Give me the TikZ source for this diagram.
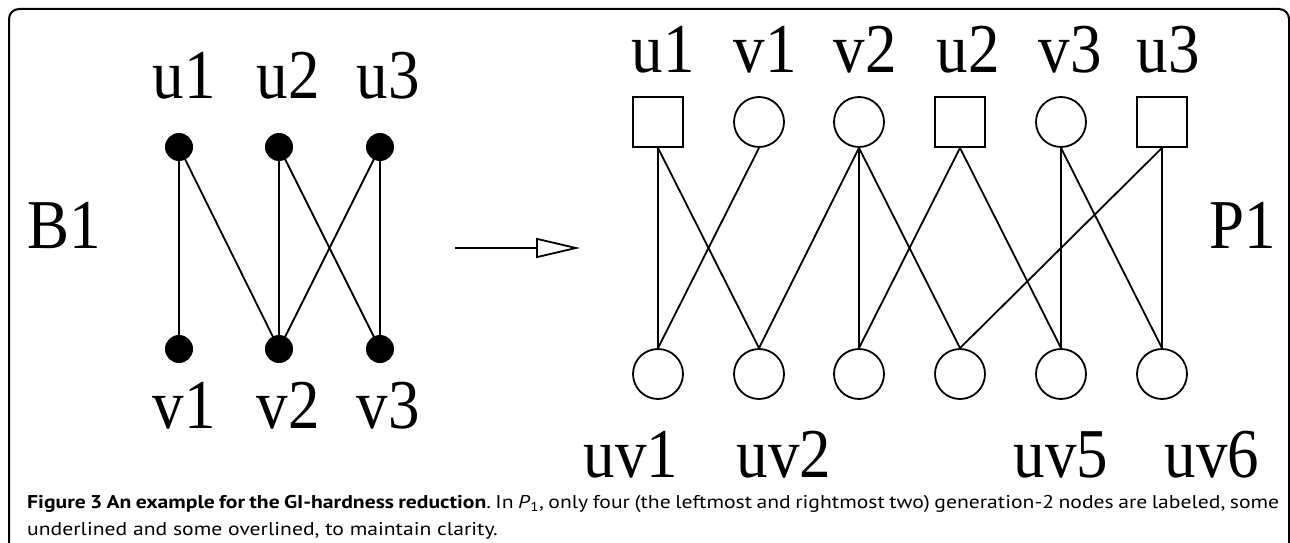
\documentclass[tikz,border=0pt]{standalone}
\usepackage{fontspec}
\usetikzlibrary{arrows.meta}
\newfontfamily\labfont[FakeStretch=0.9]{Liberation Serif}
\newfontfamily\capfont[FakeStretch=1.17]{PT Sans}
\frenchspacing
\begin{document}
\begin{tikzpicture}[x=1pt,y=-1pt,
  lab/.style={font={\labfont\fontsize{70}{70}\selectfont}, inner sep=0pt, anchor=base},
  dotnode/.style={circle, fill=black, minimum size=28pt, inner sep=0pt},
  sqnode/.style={draw, line width=1.8pt, minimum size=50pt, inner sep=0pt},
  cirnode/.style={draw, circle, line width=1.8pt, minimum size=50pt, inner sep=0pt},
  edge/.style={line width=1.8pt},
  capline/.style={font={\capfont\fontsize{18.5}{27}\selectfont}, inner sep=0pt, anchor=base west}
]
\useasboundingbox (0,0) rectangle (1290,543);
\fill[white] (0,0) rectangle (1290,543);
% frame
\draw[line width=2pt, rounded corners=10pt] (9,600) -- (9,9) -- (1289,9) -- (1289,600);

% ---- left graph B1
\node[lab] (B1) at (64,248) {B1};
\node[dotnode] (lu1) at (179,147) {};
\node[dotnode] (lu2) at (279,147) {};
\node[dotnode] (lu3) at (380,147) {};
\node[dotnode] (lv1) at (179,349) {};
\node[dotnode] (lv2) at (279,349) {};
\node[dotnode] (lv3) at (380,349) {};
\node[lab] (tlu1) at (184,98) {u1};
\node[lab] (tlu2) at (288,98) {u2};
\node[lab] (tlu3) at (388,98) {u3};
\node[lab] (tlv1) at (184,428) {v1};
\node[lab] (tlv2) at (288,428) {v2};
\node[lab] (tlv3) at (388,428) {v3};
\draw[edge] (lu1.center) -- (lv1.center);
\draw[edge] (lu1.center) -- (lv2.center);
\draw[edge] (lu2.center) -- (lv2.center);
\draw[edge] (lu2.center) -- (lv3.center);
\draw[edge] (lu3.center) -- (lv2.center);
\draw[edge] (lu3.center) -- (lv3.center);

% ---- arrow
\coordinate (arrA) at (455,248);
\coordinate (arrB) at (580,248);
\draw[line width=1.8pt, -{Triangle[open, length=44pt, width=20pt, line width=1.8pt]}] (arrA) -- (arrB);

% ---- right graph P1
\node[lab] (P1) at (1243,248) {P1};
\node[sqnode] (t1) at (658,122) {};
\node[cirnode] (t2) at (759,122) {};
\node[cirnode] (t3) at (859,122) {};
\node[sqnode] (t4) at (960,122) {};
\node[cirnode] (t5) at (1061,122) {};
\node[sqnode] (t6) at (1162,122) {};
\node[cirnode] (b1) at (658,374) {};
\node[cirnode] (b2) at (759,374) {};
\node[cirnode] (b3) at (859,374) {};
\node[cirnode] (b4) at (960,374) {};
\node[cirnode] (b5) at (1061,374) {};
\node[cirnode] (b6) at (1162,374) {};
\node[lab] (tt1) at (663,72) {u1};
\node[lab] (tt2) at (765,72) {v1};
\node[lab] (tt3) at (865,72) {v2};
\node[lab] (tt4) at (968,72) {u2};
\node[lab] (tt5) at (1070,72) {v3};
\node[lab] (tt6) at (1168,72) {u3};
\node[lab] (tb1) at (631,477) {uv1};
\node[lab] (tb2) at (784,477) {uv2};
\node[lab] (tb5) at (1061,477) {uv5};
\node[lab] (tb6) at (1212,477) {uv6};
\draw[edge] (t1.south) -- (b1.north);
\draw[edge] (t1.south) -- (b2.north);
\draw[edge] (t2.south) -- (b1.north);
\draw[edge] (t3.south) -- (b2.north);
\draw[edge] (t3.south) -- (b3.north);
\draw[edge] (t3.south) -- (b4.north);
\draw[edge] (t4.south) -- (b3.north);
\draw[edge] (t4.south) -- (b5.north);
\draw[edge] (t5.south) -- (b5.north);
\draw[edge] (t5.south) -- (b6.north);
\draw[edge] (t6.south) -- (b4.north);
\draw[edge] (t6.south) -- (b6.north);

% ---- caption
\node[capline] (cap1) at (27,508) {\makebox[1252pt][s]{\textbf{Figure 3 An example for the GI-hardness reduction}. In \textit{P}\textsubscript{1}, only four (the leftmost and rightmost two) generation-2 nodes are labeled, some}};
\node[capline] (cap2) at (27,535) {underlined and some overlined, to maintain clarity.};
\end{tikzpicture}
\end{document}
